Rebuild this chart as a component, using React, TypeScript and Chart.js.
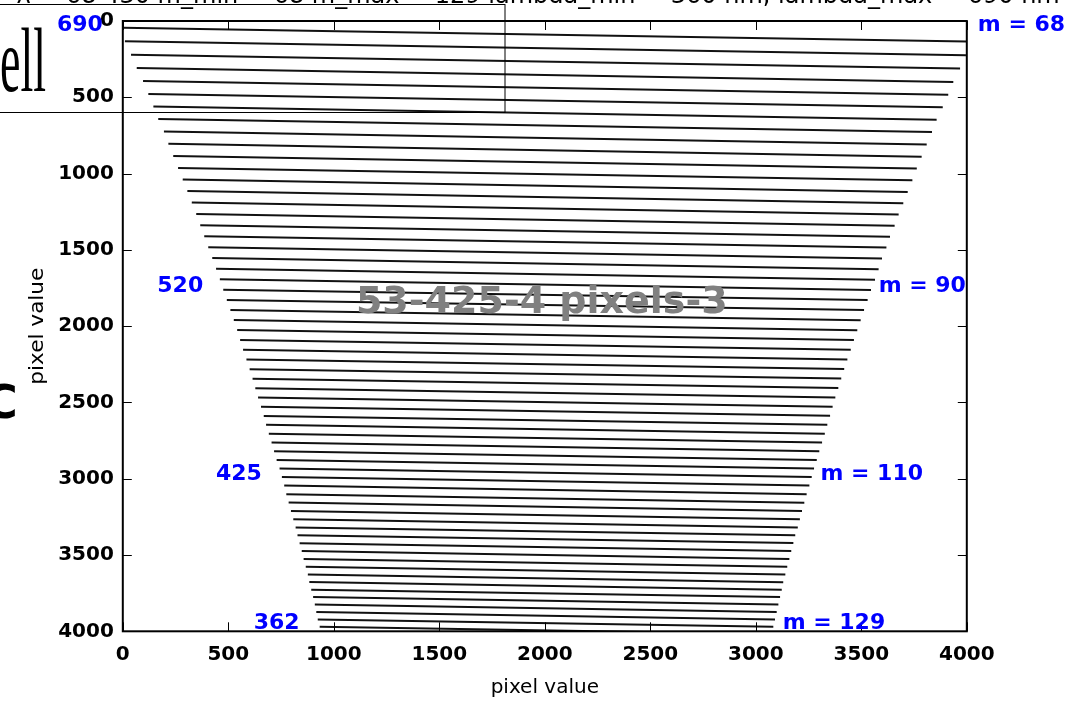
import React, { useEffect, useRef } from "react";
import { Chart, registerables } from "chart.js";

Chart.register(...registerables);

// Echelle orders
const orders = [
  68, 69, 70, 71, 72, 73, 74, 75, 76, 77, 78, 79, 80, 81, 82, 83, 84, 85, 86, 87,
  88, 89, 90, 91, 92, 93, 94, 95, 96, 97, 98, 99, 100, 101, 102, 103, 104, 105,
  106, 107, 108, 109, 110, 111, 112, 113, 114, 115, 116, 117, 118, 119, 120, 121,
  122, 123, 124, 125, 126, 127, 128, 129,
];

// left end of each order trace (pixel x, pixel y on detector)
const leftX = [
  0, 10, 39, 66, 96, 121, 145, 168, 195, 216, 239, 262, 284, 306, 327, 348, 367,
  386, 405, 424, 442, 460, 476, 493, 510, 526, 542, 556, 570, 586, 601, 615, 628,
  641, 655, 668, 679, 692, 705, 717, 729, 743, 754, 765, 775, 786, 797, 808, 819,
  828, 838, 848, 857, 867, 877, 884, 893, 902, 910, 917, 924, 933,
];
const leftY = [
  45, 132, 222, 308, 394, 478, 561, 643, 724, 805, 885, 963, 1039, 1115, 1190,
  1265, 1338, 1411, 1483, 1554, 1624, 1693, 1761, 1828, 1894, 1960, 2026, 2090,
  2154, 2218, 2282, 2345, 2407, 2468, 2529, 2589, 2647, 2705, 2763, 2820, 2877,
  2933, 2989, 3045, 3101, 3156, 3211, 3265, 3319, 3371, 3423, 3474, 3526, 3577,
  3628, 3677, 3727, 3776, 3825, 3874, 3922, 3970,
];
// right end of each order trace
const rightX = [
  4000, 3996, 3968, 3936, 3912, 3886, 3857, 3835, 3810, 3786, 3763, 3742, 3720,
  3699, 3677, 3658, 3636, 3619, 3598, 3582, 3565, 3546, 3530, 3513, 3497, 3481,
  3465, 3450, 3434, 3419, 3405, 3391, 3377, 3364, 3352, 3339, 3327, 3314, 3301,
  3289, 3276, 3265, 3254, 3241, 3230, 3219, 3209, 3199, 3187, 3178, 3168, 3159,
  3149, 3140, 3130, 3123, 3115, 3107, 3099, 3091, 3083, 3075,
];
const rightY = [
  134, 225, 312, 399, 484, 566, 648, 728, 809, 889, 967, 1044, 1120, 1195, 1269,
  1342, 1414, 1485, 1556, 1627, 1696, 1763, 1829, 1894, 1961, 2027, 2091, 2155,
  2218, 2281, 2343, 2405, 2467, 2528, 2588, 2647, 2705, 2763, 2820, 2877, 2933,
  2989, 3045, 3101, 3157, 3212, 3266, 3320, 3371, 3422, 3474, 3526, 3577, 3628,
  3678, 3727, 3776, 3825, 3874, 3922, 3970, 4018,
];

// annotated orders and their wavelengths (nm)
const labelOrders = [68, 90, 110, 129];
const labelWavelengths = ["690", "520", "425", "362"];

const watermark = "53-425-4 pixels-3";
const headerPrefix = "λ = 68 430 ";
const headerRest = "m_min = 68 m_max = 129 lambda_min = 360 nm, lambda_max = 690 nm";
const axisTitle = "pixel value";

const FONT = '"DejaVu Sans", "Noto Sans", sans-serif';

const decorPlugin = {
  id: "decor",
  afterDatasetsDraw(chart: any) {
    const { ctx, chartArea: ca, scales } = chart;
    const xs = scales.x;
    const ys = scales.y;
    ctx.save();
    // watermark
    ctx.font = `bold 38px ${FONT}`;
    ctx.fillStyle = "#808080";
    ctx.textAlign = "center";
    ctx.textBaseline = "middle";
    ctx.fillText(watermark, (ca.left + ca.right) / 2 - 3, ys.getPixelForValue(1850));

    // frame
    ctx.strokeStyle = "#000";
    ctx.lineWidth = 2;
    ctx.strokeRect(ca.left, ca.top, ca.right - ca.left, ca.bottom - ca.top);
    // inward ticks
    ctx.lineWidth = 1;
    ctx.beginPath();
    xs.ticks.forEach((t: any) => {
      const p = Math.round(xs.getPixelForValue(t.value)) + 0.5;
      ctx.moveTo(p, ca.bottom);
      ctx.lineTo(p, ca.bottom - 9);
      ctx.moveTo(p, ca.top);
      ctx.lineTo(p, ca.top + 9);
    });
    ys.ticks.forEach((t: any) => {
      const p = Math.round(ys.getPixelForValue(t.value)) + 0.5;
      ctx.moveTo(ca.left, p);
      ctx.lineTo(ca.left + 9, p);
      ctx.moveTo(ca.right, p);
      ctx.lineTo(ca.right - 9, p);
    });
    ctx.stroke();

    // order labels
    ctx.font = `bold 22px ${FONT}`;
    ctx.fillStyle = "#0000ff";
    ctx.textBaseline = "middle";
    labelOrders.forEach((m, i) => {
      const k = orders.indexOf(m);
      const yl = ys.getPixelForValue(leftY[k]) - 3;
      ctx.textAlign = "right";
      ctx.fillText(labelWavelengths[i], xs.getPixelForValue(leftX[k]) - 20, yl);
      ctx.textAlign = "left";
      ctx.fillText("m = " + m, xs.getPixelForValue(rightX[k]) + 11, yl);
    });

    // axis titles
    ctx.fillStyle = "#000";
    ctx.font = `20px ${FONT}`;
    ctx.textAlign = "center";
    ctx.textBaseline = "alphabetic";
    ctx.fillText(axisTitle, (ca.left + ca.right) / 2, 693);
    ctx.save();
    ctx.translate(43, (ca.top + ca.bottom) / 2);
    ctx.rotate(-Math.PI / 2);
    ctx.scale(1.08, 1);
    ctx.fillText(axisTitle, 0, 0);
    ctx.restore();

    // cropped figure remnants
    ctx.font = `24px ${FONT}`;
    ctx.textAlign = "left";
    const wPre = ctx.measureText(headerPrefix + "m").width;
    const wUs = ctx.measureText("_").width;
    ctx.fillText(headerPrefix + headerRest, 187 - wPre - wUs / 2, 2.5);

    ctx.lineWidth = 1;
    ctx.strokeStyle = "#000";
    ctx.strokeRect(-2, 4.5, 507, 108);

    ctx.save();
    ctx.scale(0.5, 1);
    ctx.font = `92px "Liberation Serif", serif`;
    ctx.fillText("ell", 0, 91);
    ctx.restore();

    ctx.font = `bold 46px ${FONT}`;
    ctx.fillText("C", -16, 418);
    ctx.restore();
  },
};

export default function App() {
  const ref = useRef<HTMLCanvasElement>(null);
  useEffect(() => {
    if (!ref.current) return;
    const datasets = orders.map((m, i) => ({
      label: "m = " + m,
      data: [
        { x: leftX[i], y: leftY[i] },
        { x: rightX[i], y: rightY[i] },
      ],
      borderColor: "#111111",
      borderWidth: 2,
      pointRadius: 0,
      fill: false,
      tension: 0,
    }));
    const tickFont = { family: FONT, size: 20, weight: "bold" };
    const chart = new Chart(ref.current, {
      type: "line",
      data: { datasets },
      plugins: [decorPlugin],
      options: {
        animation: false,
        responsive: false,
        devicePixelRatio: 1,
        layout: { padding: { left: 0, top: 15.3, right: 104.2, bottom: 0 } },
        plugins: {
          legend: { display: false },
          tooltip: { enabled: false },
          title: { display: false },
        },
        scales: {
          x: {
            type: "linear",
            min: 0,
            max: 4000,
            grid: { display: false, drawTicks: false },
            border: { display: false },
            ticks: {
              stepSize: 500,
              padding: 11,
              color: "#000",
              maxRotation: 0,
              font: tickFont,
              callback: (v: any) => String(v),
            },
            afterFit: (s: any) => {
              s.height = 69.7;
            },
          },
          y: {
            type: "linear",
            reverse: true,
            min: 0,
            max: 4000,
            grid: { display: false, drawTicks: false },
            border: { display: false },
            ticks: {
              stepSize: 500,
              padding: 9,
              color: "#000",
              font: tickFont,
              callback: (v: any) => String(v),
            },
            afterFit: (s: any) => {
              s.width = 122.8;
            },
          },
        },
      },
    } as any);
    return () => chart.destroy();
  }, []);
  return (
    <div style={{ position: "fixed", left: 0, top: 0, width: 1071, height: 701, background: "#fff" }}>
      <canvas ref={ref} width={1071} height={701} style={{ display: "block" }} />
    </div>
  );
}
